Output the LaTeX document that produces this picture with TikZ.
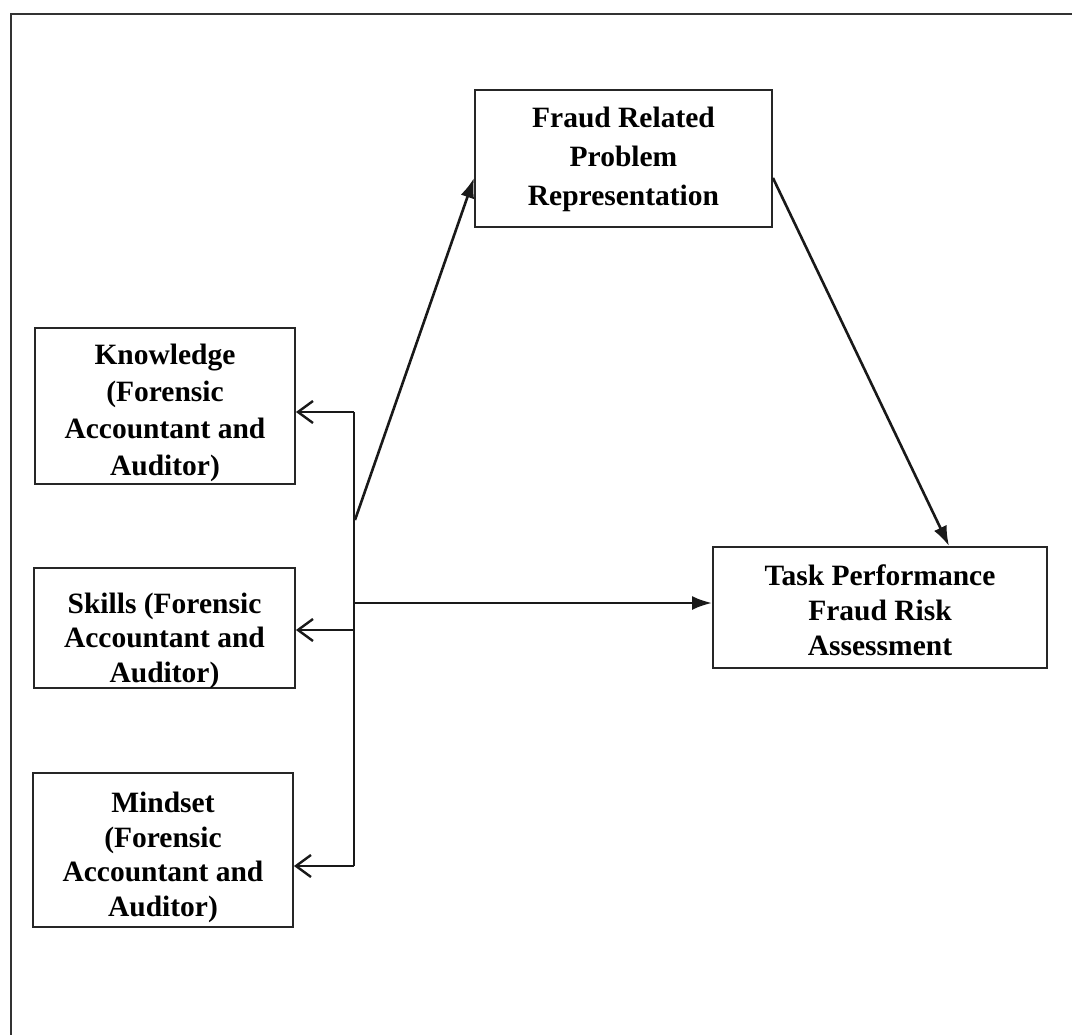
\documentclass[tikz,border=0pt]{standalone}
\usepackage{fontspec}
\setmainfont{Liberation Serif}
\usetikzlibrary{arrows.meta,calc}
\begin{document}
\begin{tikzpicture}[x=1pt,y=-1pt,
  % text block is anchored by its last baseline: it sits lift/2 below the box centre
  box/.style={draw=black!85, line width=1.9pt, align=center, inner sep=0pt,
    text depth=0pt},
  lines/.style 2 args={font=\bfseries\fontsize{29.5}{#1}\selectfont, text height=#2},
  link/.style={line width=2.6pt, black!90},
  fwd/.style={link, -{Latex[length=20pt,width=14pt]}},
  back/.style={link, -{Straight Barb[length=15pt,width=22pt,line width=2.4pt]}}]
\useasboundingbox (0,0) rectangle (1072,1035);
% outer frame (top and left edges)
\draw[line width=2pt, black!80] (11,1035) -- (11,14) -- (1072,14);

% boxes
\node[box, lines={39}{95pt}, minimum width=297pt, minimum height=137pt]
  (fraud) at (623.5,158.5) {Fraud Related\\Problem\\Representation};
\node[box, lines={35}{95pt}, minimum width=334pt, minimum height=121pt]
  (task) at (880,607.5) {Task Performance\\Fraud Risk\\Assessment};
\node[box, lines={36.7}{138pt}, minimum width=260pt, minimum height=156pt]
  (know) at (165,406) {Knowledge\\(Forensic\\Accountant and\\Auditor)};
\node[box, lines={34.5}{108pt}, minimum width=261pt, minimum height=120pt]
  (skills) at (164.5,628) {Skills (Forensic\\Accountant and\\Auditor)};
\node[box, lines={34.5}{132pt}, minimum width=260pt, minimum height=154pt]
  (mind) at (163,850) {Mindset\\(Forensic\\Accountant and\\Auditor)};

% branching spine
\coordinate (s1) at (354,412);
\coordinate (s2) at (354,630);
\coordinate (s3) at (354,866);
\coordinate (sT) at (354,603);
\coordinate (sF) at (355,520);
\draw[link] (s1) -- (s3);
\draw[back] (s1) -- (s1 -| know.east);
\draw[back] (s2) -- (s2 -| skills.east);
\draw[back] (s3) -- (s3 -| mind.east);
\draw[fwd] (sT) -- (sT -| task.west);
\draw[fwd] (sF) -- ($(fraud.south west)+(0,-50)$);
\draw[fwd] ($(fraud.south east)+(0,-50)$) -- ($(task.north west)+(237,0)$);
\end{tikzpicture}
\end{document}
